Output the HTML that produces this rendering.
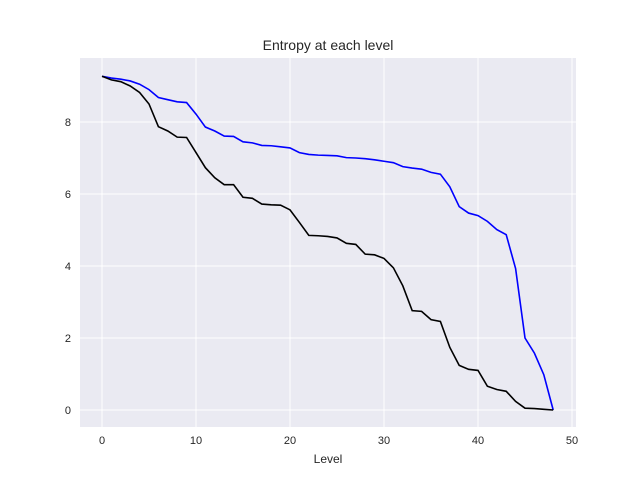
<!DOCTYPE html>
<html><head><meta charset="utf-8"><style>
body{margin:0;background:#fff;}
svg text{font-family:"Liberation Sans","DejaVu Sans",sans-serif;fill:#262626;}
</style></head><body>
<svg id="chart" width="640" height="480">
<rect x="80" y="58" width="496" height="369" fill="#eaeaf2"/>
<g id="grid"></g>
<g id="ticks"></g>
<g id="lines"></g>
<text x="328" y="50" text-anchor="middle" font-size="14">Entropy at each level</text>
<text x="328" y="463" text-anchor="middle" font-size="12">Level</text>
</svg>
<script>
const xTicks=[0,10,20,30,40,50];
const yTicks=[0,2,4,6,8];
const blueValues=[9.27,9.22,9.19,9.14,9.05,8.9,8.68,8.62,8.56,8.54,8.22,7.86,7.75,7.61,7.6,7.45,7.42,7.35,7.34,7.31,7.28,7.15,7.1,7.08,7.07,7.06,7.01,7.0,6.98,6.95,6.91,6.87,6.76,6.72,6.69,6.6,6.55,6.2,5.65,5.47,5.4,5.24,5.01,4.87,3.93,2.0,1.58,0.98,0.0];
const blackValues=[9.27,9.17,9.12,9.0,8.82,8.5,7.87,7.75,7.58,7.57,7.15,6.73,6.45,6.26,6.26,5.91,5.88,5.72,5.7,5.69,5.56,5.21,4.85,4.84,4.82,4.78,4.63,4.6,4.33,4.31,4.21,3.95,3.45,2.76,2.74,2.51,2.46,1.74,1.24,1.13,1.1,0.66,0.57,0.52,0.24,0.05,0.04,0.02,0.0];
const NS="http://www.w3.org/2000/svg";
function xs(v){return 102+v*9.4;}
function ys(v){return 410-v*36;}
function mk(t,a,p){const e=document.createElementNS(NS,t);for(const k in a)e.setAttribute(k,a[k]);p.appendChild(e);return e;}
const grid=document.getElementById('grid'),ticks=document.getElementById('ticks'),lines=document.getElementById('lines');
xTicks.forEach(v=>{
 const l=mk('line',{x1:xs(v),x2:xs(v),y1:58,y2:427,stroke:'#fff','stroke-width':1},grid);
 
 
 const t=mk('text',{x:xs(v),y:444,'text-anchor':'middle','font-size':11},ticks);
 t.textContent=v;
 
 
});
yTicks.forEach(v=>{
 const l=mk('line',{x1:80,x2:576,y1:ys(v),y2:ys(v),stroke:'#fff','stroke-width':1},grid);
 
 
 const t=mk('text',{x:71,y:ys(v)+4,'text-anchor':'end','font-size':11},ticks);
 t.textContent=v;
 
 
});
function pts(arr){return arr.map((v,i)=>xs(i)+','+ys(v)).join(' ');}
const b=mk('polyline',{points:pts(blueValues),fill:'none',stroke:'#0000ff','stroke-width':1.6},lines);


const k=mk('polyline',{points:pts(blackValues),fill:'none',stroke:'#000','stroke-width':1.6},lines);


</script>
</body></html>
